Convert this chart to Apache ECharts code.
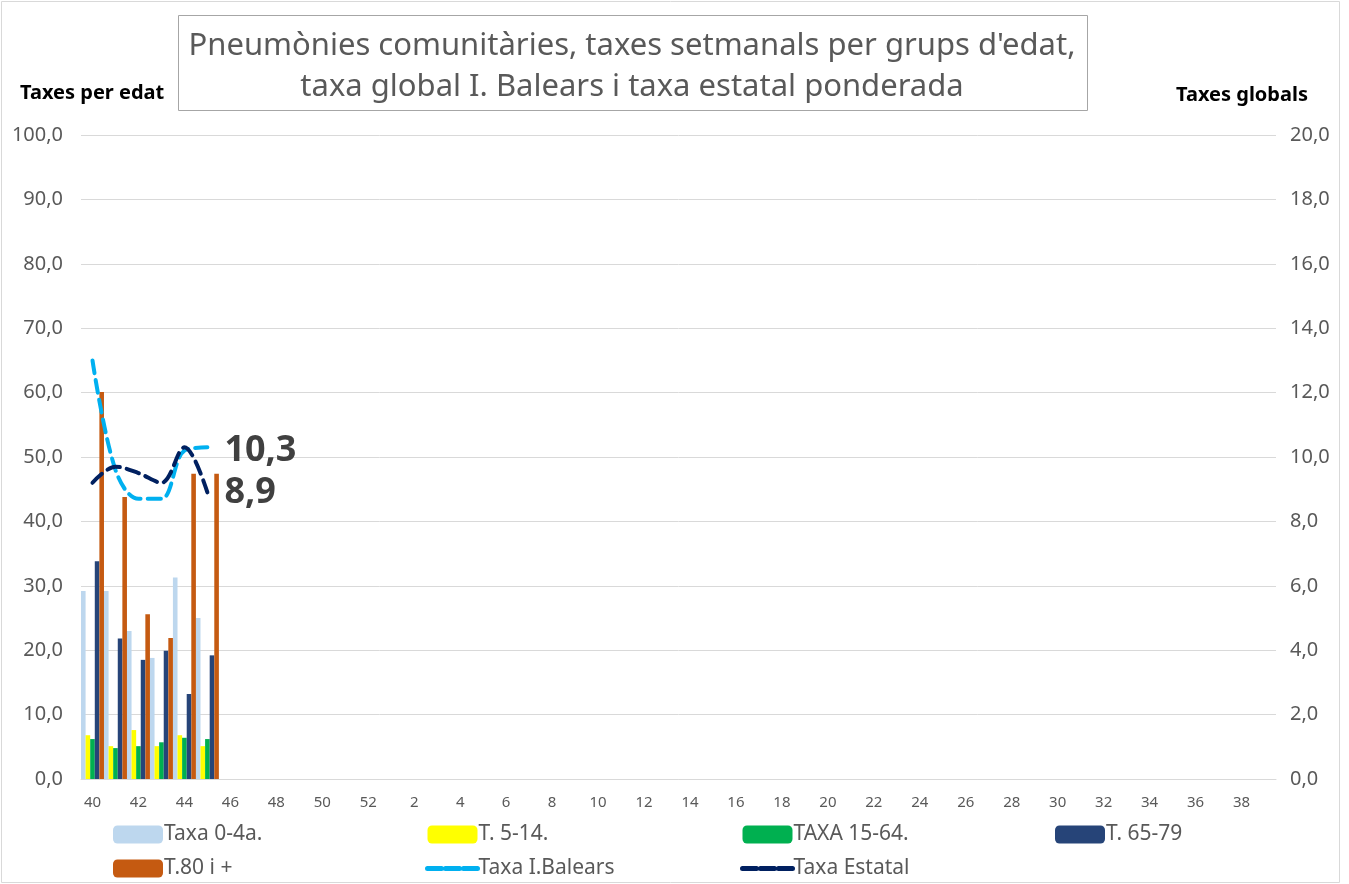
<!DOCTYPE html>
<html>
<head>
<meta charset="utf-8">
<script src="https://cdn.jsdelivr.net/npm/echarts@6/dist/echarts.min.js"></script>
<style>
  html, body { margin: 0; padding: 0; background: #fff; }
  #chart { width: 1349px; height: 884px; }
</style>
</head>
<body>
<div id="chart"></div>
<script>
// setmanes epidemiològiques (40 -> 52, 1 -> 39)
const weeks = ['40', '41', '42', '43', '44', '45', '46', '47', '48', '49', '50', '51', '52',
  '1', '2', '3', '4', '5', '6', '7', '8', '9', '10', '11', '12', '13', '14', '15', '16', '17', '18', '19', '20',
  '21', '22', '23', '24', '25', '26', '27', '28', '29', '30', '31', '32', '33', '34', '35', '36', '37', '38', '39']
// taxes per edat (eix esquerre)
const taxa0_4 = [29.2, 29.2, 23.0, 18.8, 31.3, 25.0]
const taxa5_14 = [6.8, 5.1, 7.6, 5.1, 6.8, 5.1]
const taxa15_64 = [6.2, 4.8, 5.1, 5.7, 6.4, 6.2]
const taxa65_79 = [33.8, 21.8, 18.5, 19.9, 13.2, 19.2]
const taxa80 = [60.1, 43.8, 25.6, 21.9, 47.4, 47.4]
// taxes globals (eix dret)
const taxaBalears = [13.0, 9.6, 8.7, 8.7, 10.2, 10.3]
const taxaEstatal = [9.2, 9.7, 9.5, 9.2, 10.3, 8.9]

const FONT = 'Noto Sans'
const GREY = '#595959'
const fmt = (v) => v.toFixed(1).replace('.', ',')

const chart = echarts.init(document.getElementById('chart'))

const barSeries = (name, data, color) => ({
  name: name,
  type: 'bar',
  yAxisIndex: 0,
  data: data,
  barGap: '0%',
  barCategoryGap: '0%',
  itemStyle: { color: color },
  animation: false
})

// línia discontínua amb etiqueta al final
const lineSeries = (name, data, color, dy) => ({
  name: name,
  type: 'line',
  yAxisIndex: 1,
  data: data,
  smooth: 0.35,
  symbol: 'none',
  lineStyle: { color: color, width: 4, type: [13, 7], cap: 'round' },
  itemStyle: { color: color },
  endLabel: {
    show: true,
    distance: 17,
    offset: [0, dy],
    formatter: (p) => fmt(p.value),
    fontFamily: FONT,
    fontSize: 36,
    fontWeight: 'bold',
    color: '#404040'
  },
  z: 5,
  animation: false
})

const legendBase = {
  orient: 'vertical',
  top: 819,
  itemWidth: 50,
  itemHeight: 18,
  itemGap: 13,
  textStyle: { fontFamily: FONT, fontSize: 21, color: GREY, padding: [0, 0, 0, -4] }
}
// icona de línia sense cercle
const lineLegend = (name) => ({ name: name, itemStyle: { opacity: 0 }, lineStyle: { type: [14, 4], width: 5 } })

const option = {
  animation: false,
  textStyle: { fontFamily: FONT },
  title: {
    text: "Pneumònies comunitàries, taxes setmanals per grups d'edat,\ntaxa global I. Balears i taxa estatal ponderada",
    left: 632,
    top: 26,
    textAlign: 'center',
    padding: 0,
    textStyle: { fontFamily: FONT, fontSize: 31, fontWeight: 'normal', color: GREY, lineHeight: 41 }
  },
  graphic: [
    { type: 'rect', shape: { x: 1.5, y: 1.5, width: 1338, height: 881 }, style: { fill: 'none', stroke: '#d9d9d9', lineWidth: 1 }, silent: true },
    { type: 'rect', shape: { x: 178.5, y: 15.5, width: 909, height: 95 }, style: { fill: 'none', stroke: '#a6a6a6', lineWidth: 1 }, silent: true },
    { type: 'text', left: 20, top: 83, style: { text: 'Taxes per edat', fontFamily: FONT, fontSize: 20, fontWeight: 'bold', fill: '#000' } },
    { type: 'text', left: 1176, top: 85, style: { text: 'Taxes globals', fontFamily: FONT, fontSize: 20, fontWeight: 'bold', fill: '#000' } }
  ],
  grid: { left: 81, right: 73, top: 135, bottom: 105, containLabel: false },
  legend: [
    Object.assign({}, legendBase, { left: 108, data: ['Taxa 0-4a.', 'T.80 i +'] }),
    Object.assign({}, legendBase, { left: 420, data: ['T. 5-14.', lineLegend('Taxa I.Balears')] }),
    Object.assign({}, legendBase, { left: 735, data: ['TAXA 15-64.', lineLegend('Taxa Estatal')] }),
    Object.assign({}, legendBase, { left: 1050, data: ['T. 65-79'] })
  ],
  xAxis: {
    type: 'category',
    data: weeks,
    boundaryGap: true,
    axisLine: { lineStyle: { color: '#d9d9d9' } },
    axisTick: { show: false },
    axisLabel: { interval: 1, fontFamily: FONT, fontSize: 15, color: GREY, margin: 16 }
  },
  yAxis: [
    {
      type: 'value',
      min: 0,
      max: 100,
      interval: 10,
      axisLine: { show: false },
      axisTick: { show: false },
      splitLine: { lineStyle: { color: '#d9d9d9' } },
      axisLabel: { formatter: fmt, fontFamily: FONT, fontSize: 20, color: GREY, margin: 18 }
    },
    {
      type: 'value',
      min: 0,
      max: 20,
      interval: 2,
      axisLine: { show: false },
      axisTick: { show: false },
      splitLine: { show: false },
      axisLabel: { formatter: fmt, fontFamily: FONT, fontSize: 20, color: GREY, margin: 14 }
    }
  ],
  series: [
    barSeries('Taxa 0-4a.', taxa0_4, '#bdd7ee'),
    barSeries('T. 5-14.', taxa5_14, '#ffff00'),
    barSeries('TAXA 15-64.', taxa15_64, '#00b050'),
    barSeries('T. 65-79', taxa65_79, '#264478'),
    barSeries('T.80 i +', taxa80, '#c55a11'),
    lineSeries('Taxa I.Balears', taxaBalears, '#00b0f0', 3),
    lineSeries('Taxa Estatal', taxaEstatal, '#002060', 0)
  ]
}

chart.setOption(option)
</script>
</body>
</html>
